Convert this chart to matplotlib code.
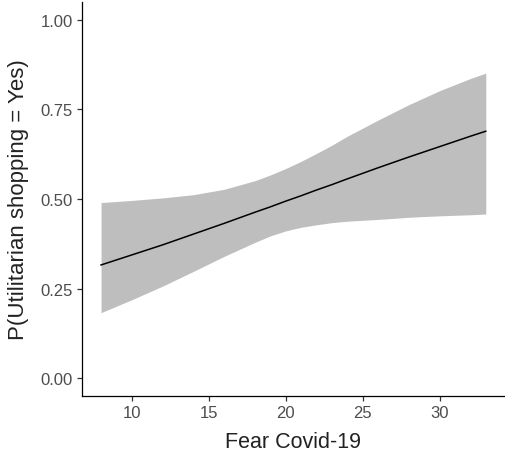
import matplotlib
matplotlib.use("Agg")
import matplotlib.pyplot as plt

plt.rcParams['font.family'] = ['Liberation Sans', 'DejaVu Sans']

# values (predicted probability with 95% band)
fear = [8, 10, 12, 14, 16, 18, 19, 20, 21, 22, 23, 24, 26, 28, 30, 32, 33]
fit = [0.316, 0.344, 0.372, 0.402, 0.432, 0.463, 0.478, 0.494, 0.509, 0.525, 0.540, 0.556, 0.587, 0.617, 0.646, 0.675, 0.689]
upper = [0.490, 0.496, 0.503, 0.512, 0.527, 0.551, 0.567, 0.585, 0.605, 0.627, 0.650, 0.675, 0.720, 0.763, 0.802, 0.836, 0.851]
lower = [0.183, 0.219, 0.257, 0.298, 0.340, 0.379, 0.397, 0.411, 0.421, 0.428, 0.434, 0.438, 0.443, 0.449, 0.453, 0.456, 0.458]

x_ticks = [10, 15, 20, 25, 30]
y_ticks = [0.0, 0.25, 0.5, 0.75, 1.0]
y_tick_labels = ["0.00", "0.25", "0.50", "0.75", "1.00"]

fig = plt.figure(figsize=(5.05, 4.64), dpi=100)
ax = fig.add_axes([0.162, 0.144, 0.838, 0.850])

ax.fill_between(fear, lower, upper, color='#BEBEBE', linewidth=0)
ax.plot(fear, fit, color='black', linewidth=1.1)

ax.set_xlim(6.75, 34.25)
ax.set_ylim(-0.05, 1.05)
ax.set_xticks(x_ticks)
ax.set_yticks(y_ticks)
ax.set_yticklabels(y_tick_labels)

for side in ['top', 'right']:
    ax.spines[side].set_visible(False)
for side in ['left', 'bottom']:
    ax.spines[side].set_color('black')
    ax.spines[side].set_linewidth(0.9)

ax.tick_params(axis='both', length=3.5, width=0.9, color='#333333',
               labelcolor='#4D4D4D', labelsize=12, pad=3)

ax.set_xlabel('Fear Covid-19', fontsize=15.5, color='#222222', labelpad=8)
ax.set_ylabel('P(Utilitarian shopping = Yes)', fontsize=16, color='#222222', labelpad=8)

fig.savefig('out.png', dpi=100)
